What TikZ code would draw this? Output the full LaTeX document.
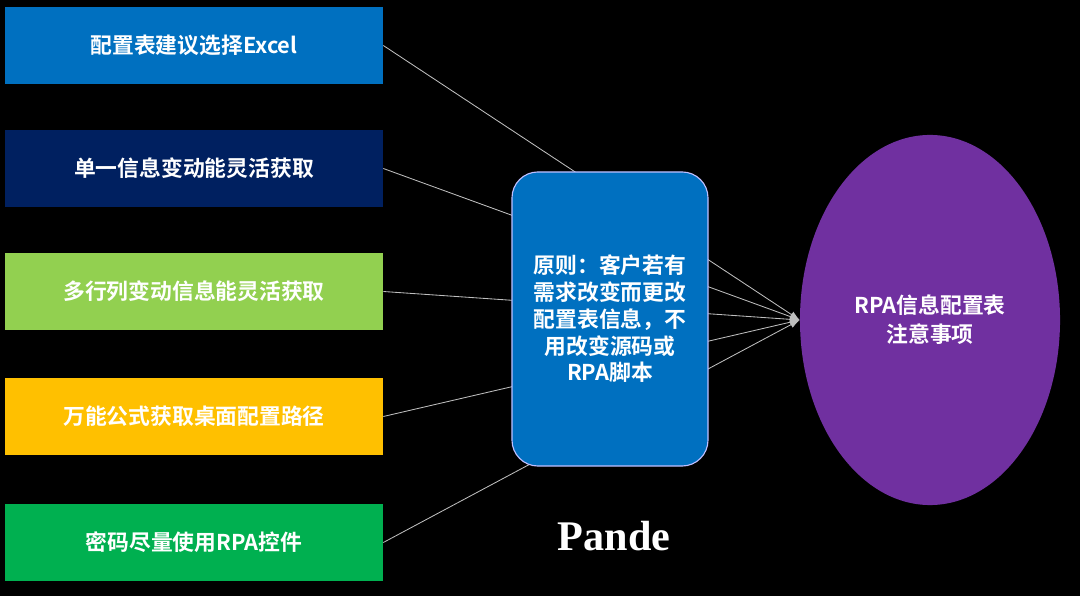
\documentclass[tikz,border=0pt]{standalone}
\usepackage{fontspec}
\newfontfamily\cjk{Noto Sans CJK SC}[BoldFont={* Bold}]
\newfontfamily\wmfont{Liberation Serif}
\usetikzlibrary{shapes.geometric,arrows.meta}
\definecolor{boxblue}{RGB}{0,112,192}
\definecolor{boxnavy}{RGB}{0,32,96}
\definecolor{boxlime}{RGB}{146,208,80}
\definecolor{boxgold}{RGB}{255,192,0}
\definecolor{boxgreen}{RGB}{0,176,80}
\definecolor{goalpurple}{RGB}{112,48,160}
\definecolor{linkgray}{RGB}{190,190,190}
\tikzset{
  tip/.style={minimum width=9.45cm,minimum height=1.93cm,inner sep=0pt,
    text=white,font=\cjk\bfseries\fontsize{15.5}{19}\selectfont},
  link/.style={draw=linkgray,line width=0.6pt,-{Latex[length=7pt,width=5pt]}}
}
\begin{document}
\begin{tikzpicture}[x=0.025cm,y=-0.025cm]
  % background
  \fill[black] (0,0) rectangle (1080,596);
  % left column of tips
  \node[tip,fill=boxblue]  (excel)  at (194,45.5)  {配置表建议选择Excel};
  \node[tip,fill=boxnavy]  (single) at (194,168.5) {单一信息变动能灵活获取};
  \node[tip,fill=boxlime]  (multi)  at (194,291.5) {多行列变动信息能灵活获取};
  \node[tip,fill=boxgold]  (path)   at (194,416.5) {万能公式获取桌面配置路径};
  \node[tip,fill=boxgreen] (pwd)    at (194,542.5) {密码尽量使用RPA控件};
  % goal ellipse
  \node[ellipse,fill=goalpurple,minimum width=6.5cm,minimum height=9.25cm,
    inner sep=0pt,text=white,align=center,
    font=\cjk\bfseries\fontsize{15.5}{20.5}\selectfont] (goal) at (930,320)
    {RPA信息配置表\\注意事项};
  % connectors, behind the principle box
  \foreach \n in {excel,single,multi,path,pwd} {
    \draw[link] (\n.east) -- (goal.west);
  }
  % principle box
  \node[draw=blue!25!white,line width=0.8pt,fill=boxblue,rounded corners=0.65cm,
    minimum width=4.9cm,minimum height=7.35cm,text=white,align=center,
    font=\cjk\bfseries\fontsize{15.5}{19}\selectfont] (rule) at (610,319)
    {原则：客户若有\\需求改变而更改\\配置表信息，不\\用改变源码或\\RPA脚本};
  % watermark
  \node[text=white,font=\wmfont\bfseries\fontsize{30}{36}\selectfont] (mark) at (614,536) {Pande};
\end{tikzpicture}
\end{document}
